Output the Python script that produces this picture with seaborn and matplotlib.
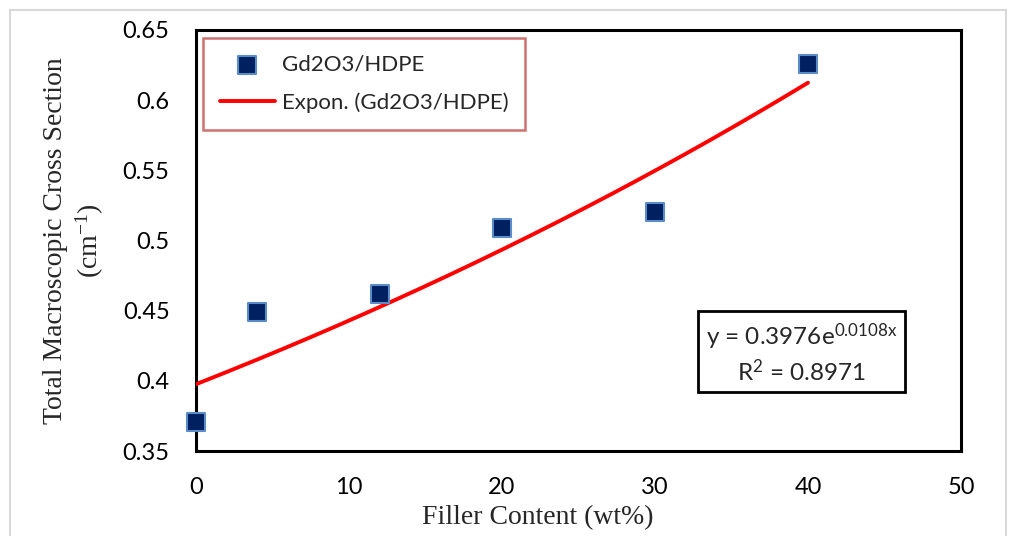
import numpy as np
import pandas as pd
import seaborn as sns
import matplotlib.pyplot as plt
from matplotlib.patches import Rectangle

# Measured data
filler_wt = [0, 4, 12, 20, 30, 40]
cross_section = [0.371, 0.449, 0.462, 0.509, 0.520, 0.626]

# Exponential trendline coefficients
fit_a = 0.3976
fit_b = 0.0108
r_squared = 0.8971

x_ticks = [0, 10, 20, 30, 40, 50]
y_ticks = [0.35, 0.4, 0.45, 0.5, 0.55, 0.6, 0.65]
y_tick_labels = ["0.35", "0.4", "0.45", "0.5", "0.55", "0.6", "0.65"]

sns.set_theme(style="white")
plt.rcParams['font.family'] = ['Lato', 'DejaVu Sans']

fig = plt.figure(figsize=(10.16, 5.36), dpi=100)
ax = fig.add_axes([196 / 1016, 1 - 451 / 536, (961 - 196) / 1016, (451 - 30) / 536])

df = pd.DataFrame({"Filler": filler_wt, "Sigma": cross_section})
sns.scatterplot(data=df, x="Filler", y="Sigma", ax=ax, marker="s", s=150,
                color="#002060", edgecolor="#5B8CC8", linewidth=1.5,
                label="Gd2O3/HDPE", zorder=5, clip_on=False)

xf = np.linspace(0, max(filler_wt), 200)
fit_df = pd.DataFrame({"Filler": xf, "Sigma": fit_a * np.exp(fit_b * xf)})
sns.lineplot(data=fit_df, x="Filler", y="Sigma", ax=ax, color="#FF0000",
             linewidth=2.8, label="Expon. (Gd2O3/HDPE)", zorder=4)

ax.set_xlim(0, 50)
ax.set_ylim(0.35, 0.65)
ax.set_xticks(x_ticks)
ax.set_yticks(y_ticks)
ax.set_yticklabels(y_tick_labels)
ax.tick_params(axis="y", labelsize=17, length=0, pad=19, colors="black")
ax.tick_params(axis="x", labelsize=17, length=0, pad=19, colors="black")

for s in ax.spines.values():
    s.set_visible(True)
    s.set_color("black")
    s.set_linewidth(2.2)

ax.set_xlabel("Filler Content (wt%)", family="Liberation Serif", fontsize=20)
ax.xaxis.set_label_coords(0.447, -0.128)
ax.set_ylabel("Total Macroscopic Cross Section\n(cm$\\mathregular{^{-1}}$)",
              family="Liberation Serif", fontsize=20, labelpad=12, linespacing=1.25)

leg = ax.legend(loc="upper left", bbox_to_anchor=(7 / 765, 1 - 8 / 421),
                fontsize=16, frameon=True, fancybox=False, borderpad=0.75,
                labelspacing=0.8, handlelength=2.5, handletextpad=0.3,
                borderaxespad=0)
leg.get_frame().set_edgecolor("#C0504D")
leg.get_frame().set_linewidth(1.8)

eq_text = "y = 0.3976e$\\mathregular{^{0.0108x}}$\nR$\\mathregular{^{2}}$ = 0.8971"
ax.text(0.7915, 0.233, eq_text, transform=ax.transAxes, fontsize=17.5,
        ha="center", va="center", linespacing=1.3,
        bbox=dict(boxstyle="square,pad=0.3", facecolor="white",
                  edgecolor="black", linewidth=2))

# Light outer frame around the figure
fig.patches.append(Rectangle((10 / 1016, -0.01), 996 / 1016, 1 - 10 / 536 + 0.01,
                             transform=fig.transFigure, fill=False,
                             edgecolor="#D9D9D9", linewidth=1.5))

fig.savefig("out.png", dpi=100)
